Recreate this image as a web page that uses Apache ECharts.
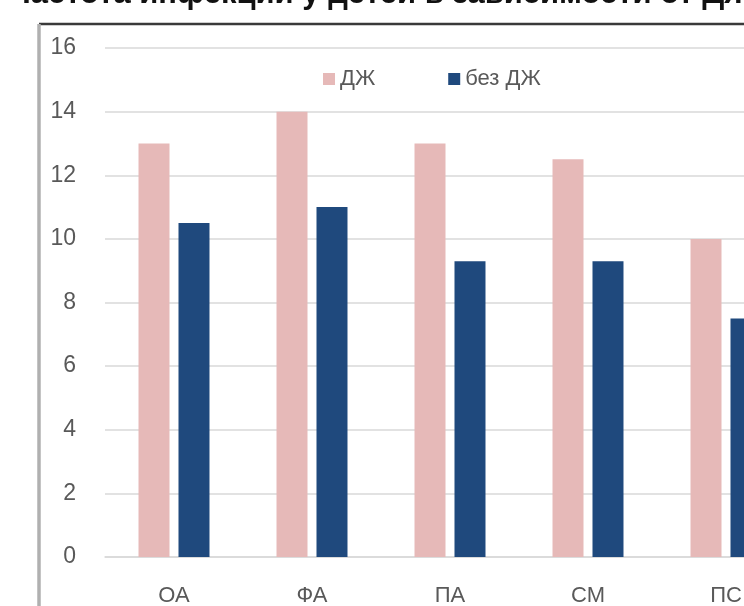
<!DOCTYPE html>
<html>
<head>
<meta charset="utf-8">
<script src="https://cdn.jsdelivr.net/npm/echarts@6/dist/echarts.min.js"></script>
<style>
  html, body { margin:0; padding:0; background:#fff; }
  #chart { width:744px; height:606px; }
</style>
</head>
<body>
<div id="chart"></div>
<script>
const categories = ['ОА', 'ФА', 'ПА', 'СМ', 'ПС'];
const seriesNames = ['ДЖ', 'без ДЖ'];
const withDJ = [13, 14, 13, 12.5, 10];
const withoutDJ = [10.5, 11, 9.3, 9.3, 7.5];
const yTicks = [0, 2, 4, 6, 8, 10, 12, 14, 16];

const myChart = echarts.init(document.getElementById('chart'));
const txt = '#595959';
const font = 'Liberation Sans';

let option = {
    backgroundColor:'#fff',
    animation:false,
    title:{
        text:'Частота инфекции у детей в зависимости от ДЖ',
        left:4,
        top:-26,
        textStyle:{ fontFamily:font, fontSize:31, fontWeight:'bold', color:'#111' }
    },
    graphic:[
        { type:'line', shape:{ x1:39, y1:24, x2:744, y2:24 }, style:{ stroke:'#3a3a3a', lineWidth:2.5 } },
        { type:'line', shape:{ x1:39, y1:24, x2:39, y2:606 }, style:{ stroke:'#b0b0b0', lineWidth:3.5 } }
    ],
    legend:{
        data:seriesNames,
        left:318,
        top:63,
        itemWidth:12,
        itemHeight:12,
        itemGap:73,
        icon:'rect',
        textStyle:{ fontFamily:font, fontSize:22, color:txt }
    },
    grid:{ left:105, top:48, width:690, height:509, containLabel:false, outerBoundsMode:'none' },
    xAxis:{
        type:'category',
        data:categories,
        axisLine:{ show:true, lineStyle:{ color:'#d9d9d9', width:1.5 } },
        axisTick:{ show:false },
        axisLabel:{ fontFamily:font, fontSize:22, color:txt, margin:28 }
    },
    yAxis:{
        type:'value',
        min:yTicks[0],
        max:yTicks[yTicks.length - 1],
        interval:2,
        axisLine:{ show:false },
        axisTick:{ show:false },
        splitLine:{ lineStyle:{ color:'#d9d9d9', width:1.5 } },
        axisLabel:{ fontFamily:font, fontSize:23, color:txt, margin:29 }
    },
    series:[
        { name:seriesNames[0], type:'bar', data:withDJ, barWidth:31, barGap:'29%', itemStyle:{ color:'#e6b9b8' } },
        { name:seriesNames[1], type:'bar', data:withoutDJ, barWidth:31, barGap:'29%', itemStyle:{ color:'#1f497d' } }
    ]
};
myChart.setOption(option);
</script>
</body>
</html>
